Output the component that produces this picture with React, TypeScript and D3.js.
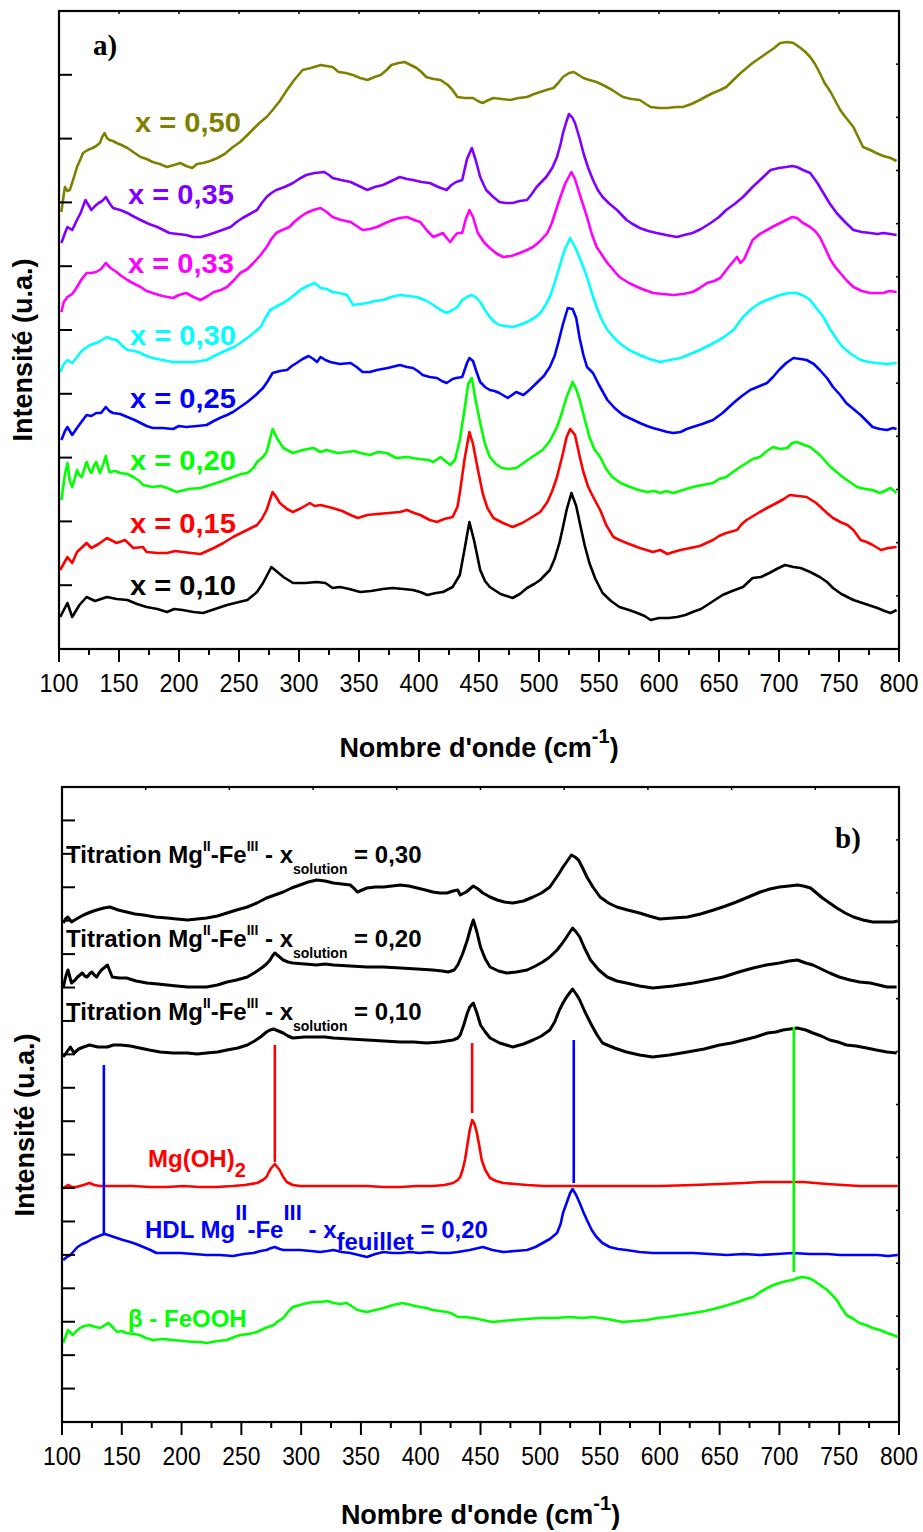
import React from 'react';
import * as d3 from 'd3';

type Pt = [number, number];

// ---------- axis ticks ----------
const X_TICKS = [100, 150, 200, 250, 300, 350, 400, 450, 500, 550, 600, 650, 700, 750, 800];
const X_MINOR = [125, 175, 225, 275, 325, 375, 425, 475, 525, 575, 625, 675, 725, 775];

// ---------- panel a) spectra (wavenumber cm-1, intensity a.u.) ----------
const A_X010: Pt[] = [[101,32],[107,46],[111,32],[117,44],[123,52],[130,48],[140,52],[148,50],[157,49],[165,45],[173,42],[182,40],[190,37],[196,40],[203,39],[212,37],[220,36],[230,40],[240,44],[250,47],[257,49],[265,57],[270,66],[277,82],[282,77],[287,72],[295,66],[305,66],[315,67],[322,66],[328,61],[334,62],[342,60],[351,57],[360,58],[370,60],[378,61],[387,60],[395,59],[401,57],[407,54],[414,56],[420,57],[428,62],[434,74],[438,100],[442,127],[446,108],[451,79],[455,68],[459,62],[468,55],[478,51],[484,55],[490,61],[496,65],[501,69],[509,79],[513,90],[517,106],[520,122],[523,139],[527,156],[531,143],[534,126],[538,104],[542,86],[547,70],[553,56],[560,48],[567,42],[575,39],[582,36],[588,33],[593,29],[600,31],[608,31],[615,32],[622,34],[628,37],[635,40],[644,47],[653,54],[661,58],[670,62],[678,71],[685,72],[692,76],[698,80],[705,84],[712,82],[718,81],[726,77],[734,72],[740,67],[745,61],[752,55],[762,49],[772,45],[782,41],[788,38],[793,36],[798,39]];
const A_X015: Pt[] = [[101,79],[107,92],[111,86],[115,97],[123,106],[127,101],[133,105],[140,111],[148,106],[155,109],[162,101],[170,102],[173,97],[182,96],[190,96],[197,98],[203,97],[210,96],[218,95],[229,101],[237,106],[245,112],[255,118],[265,124],[269,130],[273,139],[278,157],[281,152],[284,146],[290,140],[295,137],[302,141],[309,146],[313,143],[318,144],[328,141],[336,138],[343,134],[349,131],[357,134],[365,135],[375,136],[384,137],[390,139],[396,136],[401,134],[409,129],[415,127],[421,130],[428,132],[432,142],[434,156],[438,190],[442,217],[445,205],[448,186],[453,156],[457,141],[462,131],[470,126],[478,122],[486,126],[493,131],[501,137],[507,147],[511,158],[515,172],[520,196],[523,212],[526,220],[530,214],[534,192],[537,177],[541,162],[546,150],[551,139],[556,124],[562,112],[567,109],[573,106],[584,101],[595,97],[601,99],[607,95],[612,97],[618,99],[626,101],[634,103],[645,109],[650,113],[656,116],[665,119],[669,125],[673,129],[684,137],[690,141],[698,146],[704,150],[709,154],[716,153],[723,152],[731,146],[740,136],[745,131],[751,127],[757,124],[762,119],[768,109],[773,107],[778,104],[785,99],[791,101],[798,102]];
const A_X020: Pt[] = [[102,149],[105,175],[107,186],[109,168],[111,162],[113,170],[115,179],[117,174],[119,172],[121,180],[123,187],[125,180],[127,176],[129,183],[131,187],[134,176],[137,185],[139,193],[142,177],[147,178],[151,176],[157,175],[162,172],[167,168],[170,164],[178,162],[185,163],[190,161],[198,157],[208,160],[218,161],[226,164],[234,167],[245,172],[252,175],[257,176],[262,181],[265,187],[270,192],[273,197],[278,220],[282,210],[287,201],[295,196],[303,199],[312,201],[318,197],[323,199],[332,196],[340,197],[346,198],[351,196],[359,194],[366,197],[373,196],[381,191],[390,192],[400,190],[408,189],[412,187],[418,192],[426,184],[430,189],[434,209],[438,240],[441,265],[444,271],[447,250],[451,226],[455,205],[459,192],[464,185],[469,181],[475,180],[481,181],[487,186],[493,191],[498,195],[503,199],[509,208],[515,222],[519,236],[523,252],[528,267],[531,260],[534,249],[538,230],[542,212],[546,200],[551,192],[556,180],[561,172],[568,166],[576,162],[583,159],[590,157],[596,158],[601,156],[606,158],[612,156],[620,159],[628,162],[636,164],[645,166],[650,170],[656,172],[665,180],[673,186],[678,190],[684,192],[690,198],[695,202],[701,200],[707,201],[711,206],[715,207],[721,204],[726,202],[734,194],[740,186],[743,182],[748,177],[753,172],[759,167],[765,162],[772,160],[778,159],[784,156],[788,158],[793,161],[798,156]];
const A_X025: Pt[] = [[102,209],[105,218],[107,222],[111,214],[115,221],[118,226],[123,234],[127,233],[131,236],[135,236],[139,242],[142,238],[145,236],[151,235],[157,232],[163,229],[168,226],[173,223],[178,221],[186,221],[195,220],[200,223],[206,222],[215,223],[223,224],[229,228],[234,231],[240,234],[245,237],[251,242],[257,247],[264,254],[270,261],[274,268],[278,276],[284,278],[290,279],[294,283],[298,286],[303,290],[308,293],[312,290],[315,287],[318,292],[322,289],[326,287],[334,285],[343,286],[348,282],[353,277],[359,277],[365,279],[374,281],[384,284],[390,282],[395,281],[399,278],[403,274],[409,272],[415,271],[419,268],[423,266],[428,270],[431,271],[436,272],[440,286],[442,291],[445,288],[448,277],[451,267],[455,262],[459,259],[463,258],[467,256],[474,251],[481,257],[487,254],[492,259],[498,266],[504,273],[509,282],[513,293],[516,306],[520,325],[524,341],[528,340],[531,331],[534,310],[537,294],[540,282],[545,276],[550,264],[557,249],[563,241],[570,234],[577,230],[584,226],[590,223],[595,221],[601,219],[607,217],[612,216],[618,217],[623,220],[628,222],[636,225],[645,229],[653,236],[662,246],[669,253],[676,259],[684,263],[690,266],[695,272],[700,279],[706,286],[712,291],[718,290],[723,289],[729,285],[734,279],[740,271],[745,262],[751,254],[756,246],[762,240],[768,234],[773,228],[778,222],[784,220],[790,219],[795,221],[798,220]];
const A_X030: Pt[] = [[101,277],[104,285],[107,289],[111,286],[115,292],[118,297],[122,301],[126,304],[133,307],[140,312],[144,310],[148,309],[152,304],[157,299],[163,298],[168,296],[173,293],[178,291],[186,289],[195,287],[203,287],[212,287],[218,288],[223,289],[231,294],[240,299],[246,302],[251,306],[258,312],[265,319],[268,322],[272,331],[276,339],[282,343],[287,346],[294,352],[301,359],[307,363],[313,366],[318,361],[323,360],[328,357],[334,356],[340,354],[345,344],[351,345],[357,346],[363,348],[370,349],[377,352],[384,354],[391,353],[398,352],[405,349],[412,344],[418,339],[423,336],[428,339],[432,342],[436,349],[440,352],[444,354],[448,351],[451,347],[455,339],[459,332],[463,327],[467,324],[472,323],[478,322],[484,324],[490,327],[496,331],[501,336],[505,343],[509,352],[513,366],[517,382],[521,398],[526,411],[530,402],[535,388],[540,372],[544,356],[548,342],[552,330],[557,319],[562,312],[567,306],[575,299],[584,294],[592,290],[601,287],[609,289],[618,291],[626,295],[634,299],[644,305],[653,311],[662,319],[670,332],[677,340],[684,346],[692,350],[701,354],[708,356],[715,356],[721,353],[726,349],[731,341],[737,332],[743,319],[748,310],[753,302],[760,295],[768,289],[775,287],[781,286],[790,285],[798,286]];
const A_X033: Pt[] = [[102,337],[104,347],[107,352],[111,355],[115,362],[119,370],[123,376],[127,376],[131,377],[135,380],[139,386],[143,381],[148,377],[152,373],[157,369],[163,365],[168,362],[173,358],[178,356],[186,353],[195,351],[200,354],[206,356],[212,352],[218,349],[224,353],[229,357],[235,359],[240,362],[246,369],[251,376],[257,380],[262,386],[268,394],[273,402],[277,410],[281,416],[286,419],[292,422],[296,427],[301,432],[306,436],[312,439],[318,441],[323,437],[328,432],[335,429],[343,427],[348,423],[353,419],[359,420],[365,422],[372,426],[378,429],[384,431],[390,432],[396,429],[401,427],[407,418],[412,412],[416,414],[420,416],[423,411],[426,407],[429,412],[432,416],[436,416],[439,430],[442,439],[445,432],[449,416],[454,407],[459,401],[464,396],[470,392],[477,393],[484,396],[490,399],[495,402],[501,408],[507,416],[511,427],[515,442],[519,456],[522,466],[527,477],[530,470],[532,462],[536,447],[540,432],[544,415],[548,402],[553,393],[557,386],[562,379],[567,372],[575,366],[582,362],[588,359],[595,356],[603,355],[612,354],[620,355],[628,357],[634,361],[640,366],[646,368],[651,371],[658,382],[665,392],[668,386],[671,390],[678,409],[684,415],[690,419],[696,423],[701,426],[706,429],[711,432],[715,431],[720,426],[726,422],[730,418],[734,412],[738,402],[743,389],[747,382],[751,376],[756,369],[762,362],[769,358],[776,356],[781,356],[787,356],[792,358],[798,357]];
const A_X035: Pt[] = [[102,406],[105,416],[107,422],[111,419],[115,429],[118,436],[122,449],[125,443],[127,439],[130,443],[133,446],[136,448],[139,452],[142,446],[145,441],[151,439],[157,436],[163,432],[168,429],[175,425],[182,422],[187,419],[192,416],[199,415],[206,414],[212,412],[218,412],[224,414],[229,416],[236,419],[243,422],[248,427],[253,431],[259,435],[265,439],[269,446],[273,452],[277,456],[281,459],[288,462],[295,466],[300,470],[306,474],[313,476],[321,477],[325,474],[328,471],[335,469],[343,467],[350,463],[357,459],[363,462],[370,464],[377,468],[384,472],[390,470],[395,469],[402,467],[409,466],[416,462],[423,459],[427,464],[431,467],[436,469],[440,490],[444,501],[447,490],[451,472],[454,464],[456,459],[461,453],[467,447],[472,446],[478,446],[484,448],[490,449],[494,455],[498,462],[502,467],[506,472],[511,481],[515,492],[518,505],[520,516],[523,528],[525,535],[528,531],[530,526],[534,510],[537,496],[541,481],[545,469],[549,459],[553,452],[559,445],[565,439],[569,434],[573,429],[578,425],[584,421],[591,418],[598,416],[606,414],[615,412],[621,414],[628,416],[635,420],[643,426],[650,432],[656,439],[663,445],[670,452],[674,457],[678,462],[686,471],[693,479],[700,481],[706,482],[711,483],[715,482],[720,479],[726,476],[732,466],[737,456],[742,446],[748,436],[755,427],[762,419],[769,417],[776,416],[782,415],[787,416],[793,415],[798,414]];
const A_X050: Pt[] = [[102,437],[104,455],[105,462],[107,458],[109,459],[112,470],[115,482],[118,490],[120,496],[124,499],[128,501],[131,503],[134,506],[136,512],[138,516],[140,511],[142,509],[145,508],[148,506],[152,504],[157,501],[163,496],[168,492],[173,490],[178,487],[184,485],[190,482],[196,484],[201,486],[206,483],[211,481],[215,485],[220,486],[226,488],[232,491],[238,495],[245,502],[251,507],[257,514],[262,520],[267,526],[273,532],[278,539],[284,548],[290,559],[296,569],[303,579],[310,581],[318,584],[323,583],[328,582],[333,577],[339,576],[345,574],[351,571],[357,569],[363,572],[368,574],[373,579],[377,584],[383,586],[388,587],[393,584],[398,581],[402,577],[406,572],[412,570],[418,569],[424,564],[428,559],[432,552],[438,551],[445,551],[449,548],[453,546],[458,549],[462,551],[469,550],[476,549],[483,551],[490,552],[496,555],[501,557],[506,559],[512,561],[516,566],[520,572],[525,576],[529,577],[533,574],[537,571],[542,569],[548,567],[555,563],[561,559],[566,555],[570,552],[577,550],[584,549],[589,545],[593,542],[600,541],[607,541],[614,542],[620,542],[627,545],[634,549],[640,553],[645,556],[651,559],[656,562],[662,569],[668,576],[673,581],[678,586],[684,591],[690,596],[696,601],[701,606],[707,607],[712,606],[718,601],[722,597],[726,592],[730,585],[734,576],[738,566],[743,557],[747,548],[751,539],[756,531],[762,522],[766,512],[770,502],[776,499],[781,496],[787,493],[793,491],[798,488]];

const A_LABELS = ['x = 0,10', 'x = 0,15', 'x = 0,20', 'x = 0,25', 'x = 0,30', 'x = 0,33', 'x = 0,35', 'x = 0,50'];
const A_COLORS = ['#000000', '#ff0000', '#00ff00', '#0000ff', '#00ffff', '#ff00ff', '#8000ff', '#808000'];
const A_SERIES = [A_X010, A_X015, A_X020, A_X025, A_X030, A_X033, A_X035, A_X050];

// ---------- panel b) spectra ----------
const B_FEOOH: Pt[] = [[101,79],[105,92],[109,87],[112,91],[115,94],[119,96],[123,97],[128,95],[132,94],[136,97],[139,99],[143,94],[146,90],[150,91],[154,89],[160,88],[165,87],[170,84],[176,82],[185,83],[193,82],[202,81],[210,80],[216,80],[221,79],[230,81],[238,82],[244,85],[249,87],[256,88],[263,90],[270,94],[277,97],[281,101],[285,104],[289,110],[293,115],[299,117],[305,119],[311,120],[316,120],[322,121],[327,119],[333,118],[338,119],[342,116],[347,112],[351,111],[355,110],[362,112],[369,114],[377,117],[385,119],[392,117],[399,115],[405,114],[410,112],[416,111],[422,110],[427,108],[431,105],[437,105],[444,104],[452,102],[460,100],[468,101],[477,102],[488,103],[500,104],[512,104],[525,105],[535,104],[544,105],[556,103],[569,100],[579,101],[589,102],[598,104],[606,105],[617,107],[628,109],[638,111],[648,114],[657,117],[665,120],[672,123],[678,125],[684,130],[690,134],[695,137],[700,139],[706,141],[711,142],[715,144],[719,145],[724,144],[728,142],[734,137],[740,132],[744,127],[748,122],[752,114],[756,107],[762,103],[767,99],[772,97],[778,94],[784,92],[790,89],[795,87],[799,85]];
const B_HDL: Pt[] = [[101,162],[104,165],[107,167],[110,171],[113,175],[117,178],[121,180],[125,183],[129,185],[133,187],[136,188],[141,186],[146,184],[151,182],[157,180],[162,178],[168,175],[174,172],[179,169],[189,169],[199,169],[210,168],[221,167],[232,167],[243,166],[252,168],[260,169],[266,171],[271,172],[275,174],[278,175],[282,173],[285,172],[292,172],[299,172],[308,171],[316,170],[322,171],[327,172],[334,170],[341,169],[348,167],[355,165],[362,168],[369,170],[376,169],[383,169],[391,170],[399,169],[407,170],[416,169],[424,169],[431,170],[441,172],[452,175],[460,172],[469,170],[479,171],[489,172],[496,175],[502,179],[508,183],[514,189],[517,198],[519,209],[522,219],[525,229],[527,233],[530,227],[533,219],[536,210],[539,202],[543,192],[547,185],[552,179],[558,175],[565,173],[572,172],[583,170],[594,169],[611,169],[628,169],[642,168],[656,167],[670,168],[684,167],[698,168],[711,169],[725,168],[740,168],[751,167],[762,167],[772,167],[782,167],[791,166],[799,167]];
const B_MGOH: Pt[] = [[101,234],[105,237],[108,235],[112,235],[118,237],[123,239],[127,237],[132,236],[145,236],[159,236],[174,235],[188,235],[202,236],[215,235],[229,235],[243,236],[253,237],[263,239],[268,242],[271,245],[273,250],[275,254],[278,258],[280,255],[282,252],[285,245],[288,240],[293,237],[299,236],[313,236],[327,236],[341,236],[355,236],[369,235],[383,235],[397,236],[410,236],[420,237],[427,239],[431,242],[433,245],[435,252],[437,262],[439,277],[441,292],[443,302],[445,298],[447,289],[449,276],[451,262],[454,252],[458,244],[463,241],[469,239],[479,238],[489,237],[503,236],[517,236],[545,236],[572,236],[600,236],[628,237],[650,238],[670,239],[685,240],[698,240],[710,240],[720,240],[730,239],[740,238],[753,237],[767,236],[783,236],[799,236]];
const B_T010: Pt[] = [[101,365],[104,370],[107,375],[110,369],[114,373],[118,375],[123,377],[130,375],[138,375],[143,377],[149,377],[157,376],[165,374],[173,372],[182,370],[193,369],[205,369],[213,368],[221,369],[230,370],[238,372],[247,374],[255,377],[261,381],[266,385],[271,390],[274,392],[277,393],[281,391],[285,389],[289,386],[293,384],[303,385],[313,385],[320,385],[327,384],[341,383],[355,382],[369,381],[383,380],[394,380],[405,379],[416,380],[427,382],[431,384],[433,387],[436,397],[439,409],[441,415],[444,419],[447,409],[450,397],[454,390],[458,384],[466,379],[477,375],[486,378],[494,382],[501,386],[508,392],[512,400],[516,412],[519,419],[522,425],[527,433],[530,428],[533,422],[537,411],[542,399],[547,388],[552,379],[562,374],[572,370],[583,367],[594,365],[608,367],[623,370],[637,373],[650,377],[660,379],[670,382],[680,385],[690,389],[697,390],[703,392],[709,393],[715,394],[722,392],[728,389],[735,386],[742,382],[749,380],[756,377],[764,376],[773,374],[781,372],[790,370],[798,369]];
const B_T020: Pt[] = [[101,434],[103,445],[105,452],[107,443],[108,439],[111,442],[113,445],[115,447],[117,449],[119,446],[121,445],[123,448],[125,450],[127,447],[129,445],[131,449],[133,452],[136,455],[138,457],[140,451],[142,445],[148,444],[154,444],[162,441],[171,439],[180,438],[188,437],[196,436],[205,435],[213,435],[221,435],[230,437],[238,440],[246,442],[255,445],[262,450],[268,455],[271,458],[274,462],[276,466],[278,469],[281,466],[285,462],[289,460],[293,459],[303,458],[313,457],[320,458],[327,457],[341,456],[355,455],[369,455],[383,454],[397,453],[410,452],[418,451],[423,450],[428,452],[431,457],[435,468],[439,482],[442,495],[444,502],[447,490],[450,475],[454,463],[458,455],[465,451],[472,449],[480,450],[489,452],[496,456],[502,460],[508,465],[514,472],[518,478],[522,485],[527,494],[530,490],[533,485],[537,474],[542,462],[549,452],[556,445],[564,441],[572,439],[583,436],[594,434],[611,436],[628,439],[641,442],[653,445],[666,450],[678,454],[689,457],[700,459],[708,461],[715,462],[722,459],[728,457],[735,453],[742,449],[750,445],[759,442],[767,440],[776,439],[783,437],[790,435],[798,435]];
const B_T030: Pt[] = [[101,499],[103,503],[105,505],[108,500],[112,503],[118,507],[124,510],[129,512],[135,514],[140,515],[147,512],[154,510],[161,508],[168,507],[178,505],[188,504],[196,503],[205,502],[213,503],[221,504],[230,506],[238,509],[246,512],[255,515],[263,519],[271,524],[278,527],[285,530],[292,534],[299,537],[306,540],[313,542],[320,541],[327,539],[334,538],[341,537],[344,534],[347,530],[351,532],[355,534],[362,535],[369,535],[376,536],[383,537],[390,536],[397,534],[404,532],[410,530],[416,529],[422,529],[427,531],[431,532],[433,527],[438,530],[441,533],[444,536],[448,533],[452,529],[458,525],[464,522],[470,520],[477,519],[486,521],[494,525],[501,529],[508,535],[512,542],[516,549],[519,555],[522,560],[526,567],[529,565],[532,562],[535,555],[539,545],[544,535],[550,525],[557,519],[564,515],[573,512],[583,509],[591,506],[600,503],[611,504],[623,505],[634,508],[645,512],[655,516],[664,520],[674,525],[684,530],[692,533],[700,535],[708,536],[715,537],[720,536],[726,534],[731,529],[736,524],[742,519],[748,514],[755,509],[762,505],[770,502],[778,500],[787,500],[795,500],[799,501]];

const B_SERIES = [B_FEOOH, B_HDL, B_MGOH, B_T010, B_T020, B_T030];
const B_COLORS = ['#00ff00', '#0000ff', '#ff0000', '#000000', '#000000', '#000000'];

// reference band positions: wavenumber, intensity from, intensity to
const B_REF_WN = [135, 278, 443, 528, 712];
const B_REF_FROM = [188, 260, 309, 239, 150];
const B_REF_TO = [357, 377, 379, 382, 395];
const B_REF_COLORS = ['#0000ff', '#ff0000', '#ff0000', '#0000ff', '#00ff00'];

const TITRATION_VALUES = ['0,10', '0,20', '0,30'];

const SANS = "'Liberation Sans', Arial, Helvetica, sans-serif";
const SERIF = "'Liberation Serif', 'Times New Roman', Times, serif";

const W = 923;
const H = 1532;

// ---------- layout ----------
const PA = { left: 59, right: 899, top: 11, bottom: 649, yMax: 638 };
const PB = { left: 62, right: 899, top: 787, bottom: 1422, yMax: 635 };
const A_LABEL_X = [130, 130, 130, 130, 130, 128, 128, 135];
const A_LABEL_Y = [595, 533, 470, 408, 345, 273, 204, 132];
const TITRATION_Y = [1020, 947, 863];

function Frame({ p, xs, ys, leftTicks, rightTicks, topTicks, tickFont, tickLen, titleDy }: any) {
  return (
    <g>
      <rect x={p.left} y={p.top} width={p.right - p.left} height={p.bottom - p.top} fill="none" stroke="#000" strokeWidth={2.2} />
      {leftTicks.map((v: number, i: number) => (
        <line key={'l' + i} x1={p.left} x2={p.left + 13} y1={ys(v)} y2={ys(v)} stroke="#000" strokeWidth={2} />
      ))}
      {rightTicks.map((v: number, i: number) => (
        <line key={'r' + i} x1={p.right} x2={p.right - 3} y1={ys(v)} y2={ys(v)} stroke="#000" strokeWidth={1.5} />
      ))}
      {topTicks.map((v: number, i: number) => (
        <line key={'t' + i} x1={xs(v)} x2={xs(v)} y1={p.top} y2={p.top + 3} stroke="#000" strokeWidth={1.5} />
      ))}
      {X_TICKS.map((v) => (
        <line key={'bx' + v} x1={xs(v)} x2={xs(v)} y1={p.bottom} y2={p.bottom + 13} stroke="#000" strokeWidth={2} />
      ))}
      {X_MINOR.map((v) => (
        <line key={'bm' + v} x1={xs(v)} x2={xs(v)} y1={p.bottom} y2={p.bottom + 6} stroke="#000" strokeWidth={2} />
      ))}
      {X_TICKS.map((v) => (
        <text key={'lb' + v} x={xs(v)} y={p.bottom + 43} textAnchor="middle" fontFamily={SANS}
          fontSize={tickFont} textLength={tickLen} lengthAdjust="spacingAndGlyphs" fill="#000">{v}</text>
      ))}
      <text x={(p.left + p.right) / 2} y={p.bottom + titleDy} textAnchor="middle" fontFamily={SANS} fontWeight="bold" fontSize={27} fill="#000">
        Nombre d'onde (cm<tspan fontSize={20} dy={-14}>-1</tspan><tspan fontSize={27} dy={14}>)</tspan>
      </text>
    </g>
  );
}

export default function App() {
  const xA = d3.scaleLinear().domain([100, 800]).range([PA.left, PA.right]);
  const yA = d3.scaleLinear().domain([0, PA.yMax]).range([PA.bottom, PA.top]);
  const xB = d3.scaleLinear().domain([100, 800]).range([PB.left, PB.right]);
  const yB = d3.scaleLinear().domain([0, PB.yMax]).range([PB.bottom, PB.top]);

  const lineA = d3.line<Pt>().x((d) => xA(d[0])).y((d) => yA(d[1]));
  const lineB = d3.line<Pt>().x((d) => xB(d[0])).y((d) => yB(d[1]));

  const aLeft = d3.range(0, 11).map((k) => (k * PA.yMax) / 10);
  const aRight = d3.range(0, 13).map((k) => (k * PA.yMax) / 12);
  const aTop = d3.range(100, 801, 50);
  const bLeft = d3.range(0, 20).map((k) => (k * PB.yMax) / 19);
  const bRight = d3.range(0, 13).map((k) => (k * PB.yMax) / 12);
  const bTop = d3.range(100, 801, 70);

  return (
    <svg width={W} height={H} viewBox={`0 0 ${W} ${H}`} style={{ position: 'absolute', left: 0, top: 0, background: '#fff' }}>
      <rect x={0} y={0} width={W} height={H} fill="#fff" />

      {/* ---------- panel a ---------- */}
      <g>
        {A_SERIES.map((s, i) => (
          <path key={'a' + i} d={lineA(s) || ''} fill="none" stroke={A_COLORS[i]} strokeWidth={2.6} strokeLinejoin="round" />
        ))}
        <Frame p={PA} xs={xA} ys={yA} leftTicks={aLeft} rightTicks={aRight} topTicks={aTop} tickFont={26} tickLen={39} titleDy={108} />
        {A_LABELS.map((t, i) => (
          <text key={'al' + i} x={A_LABEL_X[i]} y={A_LABEL_Y[i]} fontFamily={SANS} fontWeight="bold"
            fontSize={28} textLength={106} lengthAdjust="spacingAndGlyphs" fill={A_COLORS[i]}>{t}</text>
        ))}
        <text x={93} y={55} fontFamily={SERIF} fontWeight="bold" fontSize={29} fill="#000">a)</text>
        <text transform={`translate(32,350) rotate(-90)`} textAnchor="middle" fontFamily={SANS} fontWeight="bold" fontSize={27} fill="#000">Intensité (u.a.)</text>
      </g>

      {/* ---------- panel b ---------- */}
      <g>
        {B_SERIES.map((s, i) => (
          <path key={'b' + i} d={lineB(s) || ''} fill="none" stroke={B_COLORS[i]} strokeWidth={i >= 3 ? 3 : 2.6} strokeLinejoin="round" />
        ))}
        {B_REF_WN.map((w, i) => (
          <line key={'ref' + i} x1={xB(w)} x2={xB(w)} y1={yB(B_REF_FROM[i])} y2={yB(B_REF_TO[i])} stroke={B_REF_COLORS[i]} strokeWidth={2.6} />
        ))}
        <Frame p={PB} xs={xB} ys={yB} leftTicks={bLeft} rightTicks={bRight} topTicks={bTop} tickFont={25} tickLen={38} titleDy={102} />

        {TITRATION_VALUES.map((v, i) => (
          <text key={'tt' + i} x={66} y={TITRATION_Y[i]} fontFamily={SANS} fontWeight="bold" fontSize={24} fill="#000">
            Titration Mg<tspan fontSize={14} dy={-12}>II</tspan>
            <tspan fontSize={24} dy={12}>-Fe</tspan>
            <tspan fontSize={14} dy={-12}>III</tspan>
            <tspan fontSize={24} dy={12}>{' - x'}</tspan>
            <tspan fontSize={14} dy={11}>solution</tspan>
            <tspan fontSize={24} dy={-11}>{' = ' + v}</tspan>
          </text>
        ))}

        <text x={148} y={1167} fontFamily={SANS} fontWeight="bold" fontSize={24} fill="#ff0000">
          Mg(OH)<tspan fontSize={20} dy={10}>2</tspan>
        </text>

        <text x={145} y={1238} fontFamily={SANS} fontWeight="bold" fontSize={24} fill="#0000ff">
          HDL Mg<tspan fontSize={22} dy={-18}>II</tspan>
          <tspan fontSize={24} dy={18}>-Fe</tspan>
          <tspan fontSize={22} dy={-18}>III</tspan>
          <tspan fontSize={24} dy={18}>{' - x'}</tspan>
          <tspan fontSize={24} dy={12}>feuillet</tspan>
          <tspan fontSize={24} dy={-12}>{' = 0,20'}</tspan>
        </text>

        <text x={128} y={1327} fontFamily={SANS} fontWeight="bold" fontSize={24} fill="#00ff00">β - FeOOH</text>

        <text x={835} y={848} fontFamily={SERIF} fontWeight="bold" fontSize={29} fill="#000">b)</text>
        <text transform={`translate(34,1125) rotate(-90)`} textAnchor="middle" fontFamily={SANS} fontWeight="bold" fontSize={27} fill="#000">Intensité (u.a.)</text>
      </g>
    </svg>
  );
}
